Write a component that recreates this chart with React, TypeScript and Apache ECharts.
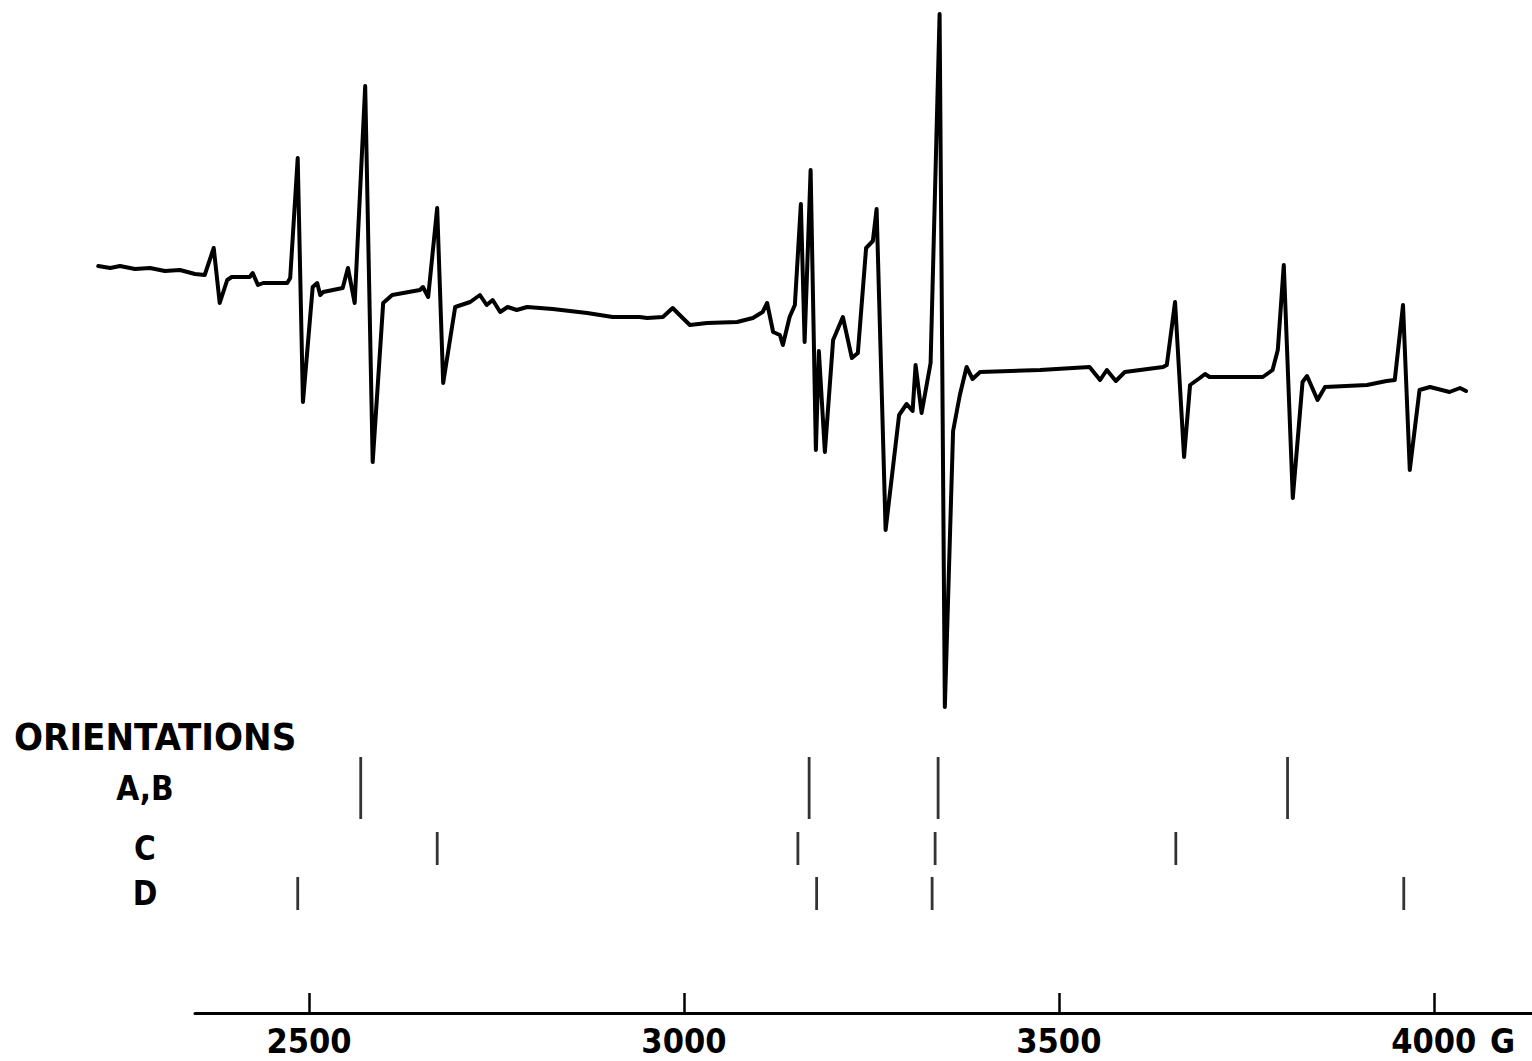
import React, { useEffect, useRef } from "react";
import * as echarts from "echarts";

// Magnetic field (G) of the traced spectrum points
const fieldG = [
  2219, 2235, 2248, 2268, 2288, 2308, 2328, 2348, 2361, 2373, 2381, 2391, 2397, 2421, 2425, 2432, 2439, 2471, 2475,
  2485, 2492, 2505, 2511, 2515, 2519, 2545, 2552, 2561, 2575, 2585, 2599, 2611, 2648, 2652, 2659, 2671, 2679, 2695,
  2715, 2728, 2737, 2745, 2755, 2765, 2777, 2791, 2825, 2871, 2905, 2941, 2951, 2972, 2985, 2997, 3008, 3031, 3071,
  3092, 3105, 3111, 3119, 3128, 3132, 3141, 3148, 3156, 3161, 3169, 3176, 3180, 3188, 3199, 3212, 3224, 3232, 3243,
  3252, 3257, 3269, 3287, 3297, 3305, 3309, 3317, 3329, 3341, 3348, 3359, 3368, 3377, 3385, 3395, 3475, 3541, 3555,
  3564, 3576, 3588, 3639, 3644, 3655, 3667, 3675, 3688, 3695, 3701, 3772, 3785, 3792, 3800, 3812, 3825, 3831, 3845,
  3855, 3911, 3937, 3948, 3959, 3968, 3981, 3995, 4021, 4035, 4043,
];

// Derivative signal (arbitrary units)
const signal = [
  94, 92, 94, 91, 92, 89, 90, 86, 85, 112, 57, 80, 83, 83, 87, 75, 77, 77, 82,
  202, -42, 73, 77, 65, 68, 72, 92, 57, 274, -102, 57, 65, 70, 73, 63, 152, -23, 53,
  58, 65, 55, 60, 48, 53, 50, 53, 51, 47, 43, 43, 42, 43, 52, 43, 35, 37, 38,
  42, 48, 57, 28, 25, 15, 43, 55, 156, 18, 190, -90, 9, -92, 20, 43, 2, 7, 112,
  119, 151, -170, -55, -44, -51, -5, -53, -3, 346, -347, -71, -35, -7, -19, -12, -10, -7, -20,
  -10, -21, -12, -7, -5, 58, -97, -25, -18, -14, -17, -17, -10, 10, 95, -138, -22, -16, -40,
  -27, -25, -21, -20, 55, -110, -30, -27, -32, -28, -31,
];

// Orientation line positions (G)
const orientationRows = ["A,B", "C", "D"];
const linesAB = [2569, 3167, 3339, 3805];
const linesC = [2671, 3152, 3335, 3656];
const linesD = [2485, 3177, 3331, 3960];

const axisTicks = [2500, 3000, 3500, 4000];
const axisTitle = "ORIENTATIONS";
const unitLabel = "G";

const X_MIN_SPECTRUM = 2088;
const X_MIN = 2348;
const X_MAX = 4131;
const FONT = "'DejaVu Sans Condensed', 'DejaVu Sans', sans-serif";

export default function App() {
  const ref = useRef<HTMLDivElement>(null);

  useEffect(() => {
    document.body.style.margin = "0";
    if (!ref.current) return;
    const chart = echarts.init(ref.current, null, { renderer: "svg" });

    const rowGrids = [
      { top: 757, height: 62 },
      { top: 832, height: 33 },
      { top: 877, height: 33 },
    ];
    const rowLines = [linesAB, linesC, linesD];

    const grids: any[] = [
      { left: 0, right: 0, top: 0, height: 720 },
      ...rowGrids.map((g) => ({ left: 195, right: 0, top: g.top, height: g.height })),
      { left: 195, right: 0, top: 993, height: 20 },
    ];

    const xAxes: any[] = [];
    const yAxes: any[] = [];
    // spectrum
    xAxes.push({ gridIndex: 0, type: "value", min: X_MIN_SPECTRUM, max: X_MAX, show: false });
    yAxes.push({ gridIndex: 0, type: "value", min: -360, max: 360, show: false });
    // orientation rows
    orientationRows.forEach((name, i) => {
      xAxes.push({ gridIndex: i + 1, type: "value", min: X_MIN, max: X_MAX, show: false });
      yAxes.push({
        gridIndex: i + 1,
        type: "category",
        data: [name],
        axisLine: { show: false },
        axisTick: { show: false },
        splitLine: { show: false },
        axisLabel: {
          show: true,
          margin: 50,
          align: "center",
          color: "#000",
          fontFamily: FONT,
          fontWeight: "bold",
          fontSize: 33,
        },
      });
    });
    // bottom field axis
    xAxes.push({
      gridIndex: 4,
      type: "value",
      min: X_MIN,
      max: X_MAX,
      position: "bottom",
      splitLine: { show: false },
      axisLine: { show: true, lineStyle: { color: "#000", width: 3 } },
      axisTick: {
        show: true,
        inside: true,
        length: 20,
        customValues: axisTicks,
        lineStyle: { color: "#000", width: 2.5 },
      },
      axisLabel: {
        show: true,
        customValues: axisTicks,
        formatter: (v: number) => String(v),
        margin: 11,
        color: "#000",
        fontFamily: FONT,
        fontWeight: "bold",
        fontSize: 34,
        lineHeight: 34,
      },
    });
    yAxes.push({ gridIndex: 4, type: "value", min: 0, max: 1, show: false });

    const series: any[] = [
      {
        type: "line",
        xAxisIndex: 0,
        yAxisIndex: 0,
        data: fieldG.map((g, i) => [g, signal[i]]),
        showSymbol: false,
        lineStyle: { color: "#000", width: 4, join: "round", cap: "round" },
        smooth: false,
      },
      ...orientationRows.map((name, i) => ({
        type: "scatter",
        xAxisIndex: i + 1,
        yAxisIndex: i + 1,
        symbol: "rect",
        symbolSize: [2.8, rowGrids[i].height],
        itemStyle: { color: "#000" },
        data: rowLines[i].map((g) => [g, name]),
      })),
    ];

    chart.setOption({
      animation: false,
      backgroundColor: "#ffffff",
      grid: grids,
      xAxis: xAxes,
      yAxis: yAxes,
      series,
      graphic: [
        {
          type: "text",
          x: 14,
          y: 737,
          style: {
            text: axisTitle,
            fill: "#000",
            font: `bold 38px ${FONT}`,
            verticalAlign: "middle",
          },
        },
        {
          type: "text",
          x: 1490,
          y: 1041,
          style: {
            text: unitLabel,
            fill: "#000",
            font: `bold 34px ${FONT}`,
            verticalAlign: "middle",
          },
        },
      ],
    });

    return () => chart.dispose();
  }, []);

  return <div ref={ref} style={{ width: 1532, height: 1061 }} />;
}
